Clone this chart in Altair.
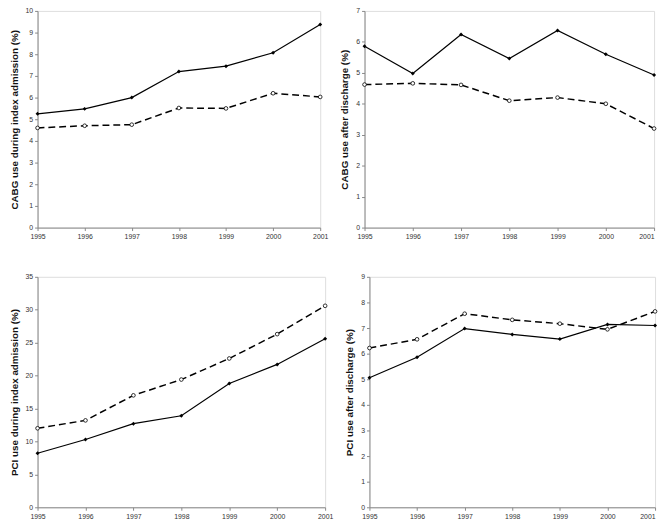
import altair as alt
import pandas as pd

years = [1995, 1996, 1997, 1998, 1999, 2000, 2001]

cabg_index_solid = [5.25, 5.48, 6.0, 7.2, 7.45, 8.07, 9.37]
cabg_index_dashed = [4.6, 4.7, 4.75, 5.52, 5.5, 6.2, 6.03]

cabg_after_solid = [5.86, 4.98, 6.24, 5.46, 6.37, 5.6, 4.93]
cabg_after_dashed = [4.62, 4.66, 4.61, 4.1, 4.2, 4.0, 3.2]

pci_index_solid = [8.2, 10.3, 12.7, 13.9, 18.8, 21.7, 25.6]
pci_index_dashed = [12.0, 13.2, 17.0, 19.4, 22.6, 26.3, 30.6]

pci_after_solid = [5.06, 5.86, 6.98, 6.75, 6.57, 7.14, 7.1]
pci_after_dashed = [6.22, 6.56, 7.56, 7.32, 7.17, 6.95, 7.65]

titles = [
    "CABG use during index admission (%)",
    "CABG use after discharge (%)",
    "PCI use during index admission (%)",
    "PCI use after discharge (%)",
]
ymax = [10, 7, 35, 9]
ystep = [1, 1, 5, 1]

FONT = "Liberation Sans"


def panel(solid, dashed, title, ym, step, w, h, last_right=False):
    df = pd.DataFrame({"year": years, "solid": solid, "dashed": dashed})
    xaxis_kw = dict(values=years, format="d", title=None, grid=False,
                    labelFontSize=7, labelColor="#333", tickSize=3,
                    tickColor="#888", domainColor="#888", labelFont=FONT,
                    labelPadding=2, labelOverlap=False, labelFlush=False)
    if last_right:
        xaxis_kw["labelAlign"] = alt.ExprRef(
            expr="datum.value == 2001 ? 'right' : 'center'")
    x = alt.X(
        "year:Q",
        scale=alt.Scale(domain=[1995, 2001], nice=False, zero=False),
        axis=alt.Axis(**xaxis_kw),
    )
    yaxis = alt.Axis(values=list(range(0, ym + 1, step)), title=title, grid=False,
                     labelFontSize=7, labelColor="#333", tickSize=3,
                     tickColor="#888", domainColor="#888", labelFont=FONT,
                     titleFont=FONT, titleFontSize=10, titleFontWeight="bold",
                     titleColor="#111", labelPadding=2, titlePadding=6,
                     labelOverlap=False, labelFlush=False)
    yscale = alt.Scale(domain=[0, ym], nice=False)
    base = alt.Chart(df)
    dline = base.mark_line(color="black", strokeWidth=1.5, strokeDash=[7, 4]).encode(
        x=x, y=alt.Y("dashed:Q", scale=yscale, axis=yaxis))
    dpt = base.mark_point(shape="circle", size=14, filled=True, fill="white",
                          stroke="black", strokeWidth=0.8, opacity=1).encode(
        x=x, y=alt.Y("dashed:Q", scale=yscale, axis=yaxis))
    sline = base.mark_line(color="black", strokeWidth=1.2).encode(
        x=x, y=alt.Y("solid:Q", scale=yscale, axis=yaxis))
    spt = base.mark_point(shape="diamond", size=16, filled=True, color="black",
                          opacity=1).encode(
        x=x, y=alt.Y("solid:Q", scale=yscale, axis=yaxis))
    return alt.layer(dline, sline, dpt, spt).properties(width=w, height=h)


p1 = panel(cabg_index_solid, cabg_index_dashed, titles[0], ymax[0], ystep[0], 287, 220)
p2 = panel(cabg_after_solid, cabg_after_dashed, titles[1], ymax[1], ystep[1], 294, 220,
           last_right=True)
p3 = panel(pci_index_solid, pci_index_dashed, titles[2], ymax[2], ystep[2], 292, 234)
p4 = panel(pci_after_solid, pci_after_dashed, titles[3], ymax[3], ystep[3], 290, 234,
           last_right=True)

row1 = alt.hconcat(p1, p2, spacing=10)
row2 = alt.hconcat(p3, p4, spacing=10)
chart = alt.vconcat(
    row1, row2, spacing=32,
    padding={"top": -6, "left": 0, "right": 0, "bottom": 0},
).configure_view(stroke="#888", strokeWidth=1).configure(background="white")

chart.save("out.html", embed_options={"renderer": "svg", "actions": False})
